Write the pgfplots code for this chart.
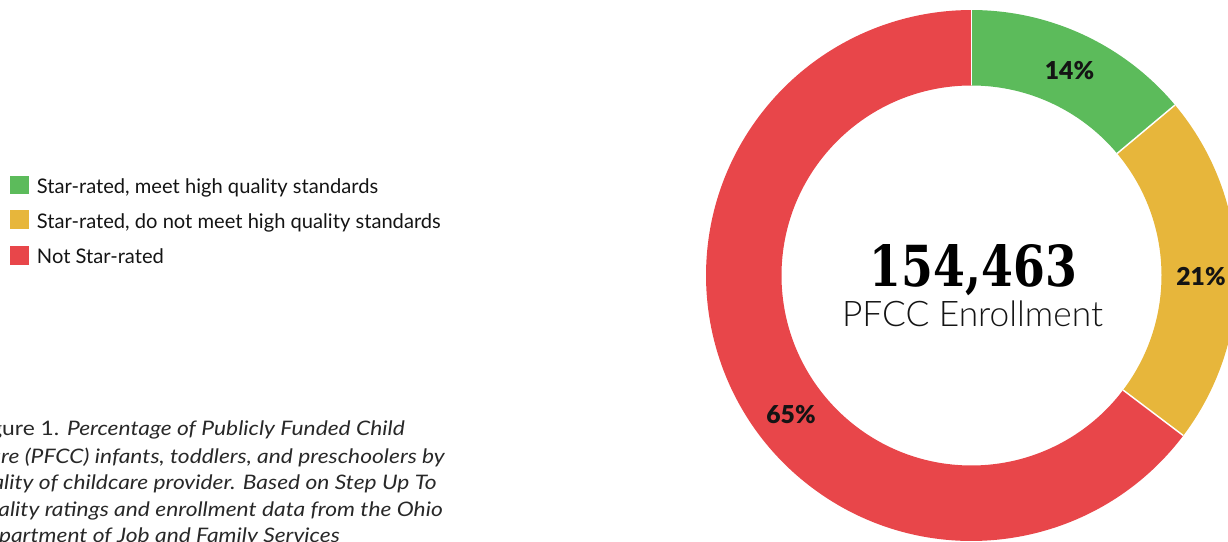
\documentclass[border=0pt]{standalone}
\usepackage{pgfplots}
\pgfplotsset{compat=1.18}
\usepackage{fontspec}
\setmainfont{Lato}
\newfontfamily\slab{DejaVu Serif}
\newfontfamily\lightfont{Lato Light}
\newfontfamily\heavyfont{Lato Black}
\definecolor{cgreen}{RGB}{92,187,91}
\definecolor{cyellow}{RGB}{231,182,59}
\definecolor{cred}{RGB}{232,70,74}
\definecolor{ctext}{RGB}{20,20,20}
\definecolor{ccap}{RGB}{40,40,40}
% data (percent shares)
\def\vA{13.9}\def\vB{21.4}\def\vC{64.7}
% donut geometry (pixel units of the reference, 1px = 0.75pt)
\def\cx{971.5}\def\cy{266.5}
\def\Ro{199.1pt}\def\Ri{142.5pt}
\newcommand\donutseg[3]{%
  \fill[#3] ([shift={(#1:\Ro)}]axis cs:\cx,\cy) arc[start angle=#1, end angle=#2, radius=\Ro]
     -- ([shift={(#2:\Ri)}]axis cs:\cx,\cy) arc[start angle=#2, end angle=#1, radius=\Ri] -- cycle;}
\newcommand\sep[1]{%
  \draw[white, line width=1.1pt] ([shift={(#1:\Ri)}]axis cs:\cx,\cy) -- ([shift={(#1:\Ro)}]axis cs:\cx,\cy);}
\newcommand\capline[1]{\scalebox{1.14}[1.0]{\fontsize{15}{17}\selectfont #1}}
\begin{document}
\begin{tikzpicture}
\useasboundingbox (0,0) rectangle (921pt,406.5pt);
\clip (0,0) rectangle (921pt,406.5pt);
\begin{axis}[
  at={(0,0)}, anchor=south west,
  width=921pt, height=406.5pt, scale only axis,
  xmin=0, xmax=1228, ymin=0, ymax=542,
  enlargelimits=false, hide axis, clip=false]
\pgfmathsetmacro\aA{90}
\pgfmathsetmacro\aB{90-3.6*\vA}
\pgfmathsetmacro\aC{90-3.6*(\vA+\vB)}
\pgfmathsetmacro\aD{90-3.6*(\vA+\vB+\vC)}
\donutseg{\aA}{\aB}{cgreen}
\donutseg{\aB}{\aC}{cyellow}
\donutseg{\aC}{\aD}{cred}
\sep{\aA}\sep{\aB}\sep{\aC}
% percent labels
\node[font=\fontsize{18.5}{20}\selectfont\heavyfont, text=ctext] at (axis cs:1069.5,471.5) {14\%};
\node[font=\fontsize{18.5}{20}\selectfont\heavyfont, text=ctext] at (axis cs:1201,265) {21\%};
\node[font=\fontsize{18.5}{20}\selectfont\heavyfont, text=ctext] at (axis cs:791,127.5) {65\%};
% centre text
\node[anchor=base, inner sep=0pt, text=black] at (axis cs:973.3,255.3) {\resizebox{155.25pt}{31.5pt}{\slab\bfseries 154,463}};
\node[anchor=base, inner sep=0pt, text=ctext] at (axis cs:972.5,215.3) {\resizebox{195.75pt}{!}{\fontsize{24}{26}\selectfont\lightfont PFCC Enrollment}};
% legend
\fill[cgreen] (axis cs:10,347.7) rectangle (axis cs:29.3,366);
\fill[cyellow] (axis cs:10,312.7) rectangle (axis cs:29.3,332);
\fill[cred] (axis cs:10,276.7) rectangle (axis cs:29.3,296);
\node[anchor=base west, inner sep=0pt, font=\fontsize{15.1}{17}\selectfont, text=ctext] at (axis cs:36.7,348.7) {Star-rated, meet high quality standards};
\node[anchor=base west, inner sep=0pt, font=\fontsize{15.1}{17}\selectfont, text=ctext] at (axis cs:36.7,313.7) {Star-rated, do not meet high quality standards};
\node[anchor=base west, inner sep=0pt, font=\fontsize{15.1}{17}\selectfont, text=ctext] at (axis cs:36.7,278.7) {Not Star-rated};
% caption
\node[anchor=base east, inner sep=0pt, text=ccap] at (axis cs:405,106) {\capline{Figure 1. \itshape Percentage of Publicly Funded Child}};
\node[anchor=base east, inner sep=0pt, text=ccap] at (axis cs:445,78.7) {\capline{\itshape Care (PFCC) infants, toddlers, and preschoolers by}};
\node[anchor=base east, inner sep=0pt, text=ccap] at (axis cs:436.7,52) {\capline{\itshape Quality of childcare provider. Based on Step Up To}};
\node[anchor=base east, inner sep=0pt, text=ccap] at (axis cs:443,25.3) {\capline{\itshape Quality ratings and enrollment data from the Ohio}};
\node[anchor=base east, inner sep=0pt, text=ccap] at (axis cs:340,-0.7) {\capline{\itshape Department of Job and Family Services}};
\end{axis}
\end{tikzpicture}
\end{document}
